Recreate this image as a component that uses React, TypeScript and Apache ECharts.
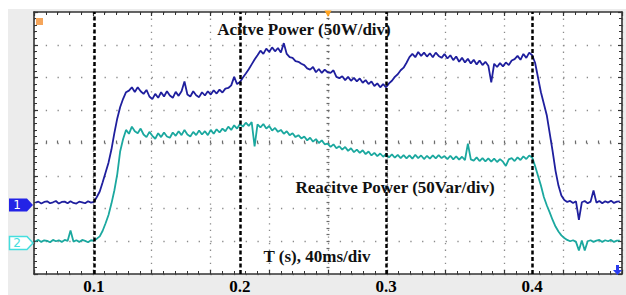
import React, { useEffect, useRef } from "react";
import * as echarts from "echarts";

// Oscilloscope record: samples every 2 ms from 0.060 s, values in screen divisions (8 div tall)
const SAMPLE_START = 0.06;
const SAMPLE_STEP = 0.002;

// Channel 1: active power (50 W/div), in divisions from bottom of screen
const activePowerDiv = [
  2.18, 2.21, 2.15, 2.20, 2.22, 2.16, 2.19, 2.23, 2.15, 2.20,
  2.21, 2.16, 2.22, 2.17, 2.15, 2.21, 2.19, 2.16, 2.22, 2.18,
  2.20, 2.35, 2.52, 2.80, 3.10, 3.40, 3.80, 4.30, 4.75, 5.10,
  5.35, 5.55, 5.60, 5.70, 5.56, 5.70, 5.58, 5.50, 5.62, 5.42,
  5.34, 5.50, 5.38, 5.55, 5.42, 5.58, 5.45, 5.38, 5.56, 5.44,
  5.58, 5.88, 5.48, 5.42, 5.58, 5.46, 5.40, 5.55, 5.45, 5.58,
  5.48, 5.61, 5.51, 5.63, 5.54, 5.66, 5.68, 5.76, 6.02, 5.80,
  5.86, 6.00, 6.12, 6.25, 6.40, 6.55, 6.68, 6.82, 6.72, 6.88,
  6.78, 6.92, 6.80, 6.90, 6.76, 7.05, 6.72, 6.62, 6.60, 6.50,
  6.48, 6.42, 6.38, 6.28, 6.24, 6.32, 6.16, 6.26, 6.14, 6.24,
  6.16, 6.14, 6.22, 6.02, 5.98, 6.04, 5.92, 6.02, 5.90, 5.99,
  5.88, 5.97, 5.84, 5.92, 5.80, 5.88, 5.74, 5.82, 5.70, 5.80,
  5.70, 5.82, 5.90, 6.02, 6.10, 6.22, 6.30, 6.45, 6.62, 6.72,
  6.62, 6.78, 6.66, 6.76, 6.64, 6.74, 6.62, 6.76, 6.66, 6.60,
  6.72, 6.58, 6.68, 6.53, 6.64, 6.48, 6.60, 6.46, 6.57, 6.43,
  6.54, 6.40, 6.52, 6.38, 6.48, 6.36, 5.85, 6.42, 6.32, 6.44,
  6.34, 6.46, 6.38, 6.52, 6.56, 6.66, 6.54, 6.72, 6.60, 6.76,
  6.68, 6.45, 6.00, 5.55, 5.20, 4.85, 4.30, 3.75, 3.15, 2.70,
  2.40, 2.26, 2.20, 2.23, 2.17, 2.22, 1.65, 2.19, 2.23, 2.16,
  2.21, 2.55, 2.18, 2.23, 2.16, 2.22, 2.18, 2.24, 2.17, 2.21,
  2.22,
];

// Channel 2: reactive power (50 Var/div), in divisions from bottom of screen
const reactivePowerDiv = [
  1.00, 1.04, 0.98, 1.03, 1.01, 0.97, 1.04, 1.00, 1.03, 0.98,
  1.04, 1.01, 1.33, 0.99, 1.03, 0.98, 1.04, 1.01, 0.97, 1.03,
  1.02, 1.08, 1.15, 1.32, 1.55, 1.80, 2.15, 2.55, 3.05, 3.75,
  4.12, 4.40, 4.28, 4.50, 4.36, 4.30, 4.44, 4.26, 4.18, 4.34,
  4.22, 4.13, 4.30, 4.18, 4.32, 4.20, 4.16, 4.32, 4.22, 4.36,
  4.24, 4.40, 4.26, 4.20, 4.34, 4.24, 4.38, 4.26, 4.36, 4.24,
  4.40, 4.28, 4.42, 4.32, 4.44, 4.36, 4.50, 4.40, 4.54, 4.44,
  4.58, 4.50, 4.62, 4.52, 4.64, 3.90, 4.57, 4.48, 4.58, 4.44,
  4.52, 4.38, 4.46, 4.34, 4.40, 4.28, 4.36, 4.24, 4.30, 4.18,
  4.24, 4.14, 4.20, 4.08, 4.16, 4.04, 4.12, 4.00, 4.08, 3.96,
  3.98, 3.88, 3.96, 3.84, 3.90, 3.80, 3.88, 3.76, 3.84, 3.72,
  3.80, 3.70, 3.78, 3.66, 3.74, 3.62, 3.70, 3.60, 3.68, 3.58,
  3.66, 3.56, 3.65, 3.55, 3.64, 3.54, 3.63, 3.53, 3.62, 3.52,
  3.64, 3.54, 3.62, 3.51, 3.61, 3.52, 3.62, 3.53, 3.63, 3.54,
  3.60, 3.51, 3.61, 3.50, 3.59, 3.49, 3.58, 3.48, 3.98, 3.50,
  3.46, 3.56, 3.45, 3.54, 3.44, 3.53, 3.43, 3.52, 3.42, 3.51,
  3.43, 3.30, 3.50, 3.54, 3.45, 3.56, 3.48, 3.59, 3.51, 3.62,
  3.56, 3.30, 3.00, 2.70, 2.35, 2.10, 1.88, 1.65, 1.45, 1.30,
  1.18, 1.10, 1.04, 1.00, 1.03, 0.98, 0.72, 1.02, 0.72, 1.00,
  1.03, 0.98, 1.02, 1.04, 0.98, 1.03, 1.00, 1.04, 0.98, 1.02,
  1.02,
];

const time = activePowerDiv.map((_, i) => +(SAMPLE_START + i * SAMPLE_STEP).toFixed(3));

const timeTickLabels = [0.1, 0.2, 0.3, 0.4];
const markerTimes = [0.1, 0.2, 0.3, 0.4];
const X_MIN = 0.059;
const X_MAX = 0.4615;
const X_DIVS = 10;
const Y_DIVS = 8;

const BORDER = "#333333";
const DOT = "#8a8a8a";
const BLUE = "#1f1f9e";
const TEAL = "#1ba89f";
const SERIF = '"Liberation Serif", "Times New Roman", serif';

function divAxis(max: number, position: string, split: number[] | null) {
  return {
    type: "value",
    min: 0,
    max,
    interval: 1,
    position,
    axisLine: { show: true, onZero: false, lineStyle: { color: BORDER, width: 1.6 } },
    axisTick: { show: true, inside: true, length: 4, lineStyle: { color: BORDER, width: 1.2 } },
    minorTick: { show: true, splitNumber: 5, length: 3, lineStyle: { color: BORDER, width: 1 } },
    axisLabel: { show: false },
    splitLine: split
      ? { show: true, lineStyle: { color: DOT, width: 1.3, type: split } }
      : { show: false },
    minorSplitLine: { show: false },
    silent: true,
  };
}

export default function App() {
  const ref = useRef<HTMLDivElement>(null);

  useEffect(() => {
    document.body.style.margin = "0";
    const chart = echarts.init(ref.current!, null, { renderer: "svg" });

    const option: any = {
      animation: false,
      grid: {
        left: 34,
        top: 12,
        right: 4,
        bottom: 19,
        show: true,
        backgroundColor: "#ffffff",
        borderWidth: 0,
      },
      xAxis: [
        {
          type: "value",
          min: X_MIN,
          max: X_MAX,
          position: "bottom",
          axisLine: { show: false, onZero: false },
          axisTick: { show: false },
          splitLine: { show: false },
          axisLabel: {
            show: true,
            customValues: timeTickLabels,
            formatter: (v: number) => v.toFixed(1),
            color: "#000",
            fontFamily: SERIF,
            fontWeight: "bold",
            fontSize: 17,
            margin: 4,
          },
        },
        divAxis(X_DIVS, "bottom", [1.3, 5.3]),
        divAxis(X_DIVS, "top", null),
        {
          type: "value",
          min: 0,
          max: X_DIVS,
          interval: 0.2,
          position: "bottom",
          offset: -130.5,
          axisLine: { show: false, onZero: false },
          axisTick: { show: true, inside: true, length: 3, lineStyle: { color: "#6a6a6a", width: 1.2 } },
          axisLabel: { show: false },
          splitLine: { show: false },
          silent: true,
        },
      ],
      yAxis: [
        divAxis(Y_DIVS, "left", [1.3, 10.46]),
        divAxis(Y_DIVS, "right", null),
        {
          type: "value",
          min: 0,
          max: Y_DIVS,
          interval: 0.2,
          position: "left",
          offset: -292.5,
          axisLine: { show: false, onZero: false },
          axisTick: { show: true, inside: true, length: 3, lineStyle: { color: "#6a6a6a", width: 1.2 } },
          axisLabel: { show: false },
          splitLine: { show: false },
          silent: true,
        },
      ],
      series: [
        {
          name: "Active Power",
          type: "line",
          xAxisIndex: 0,
          yAxisIndex: 0,
          data: time.map((t, i) => [t, activePowerDiv[i]]),
          showSymbol: false,
          symbol: "none",
          lineStyle: { color: BLUE, width: 1.8 },
          z: 3,
          silent: true,
        },
        {
          name: "Reactive Power",
          type: "line",
          xAxisIndex: 0,
          yAxisIndex: 0,
          data: time.map((t, i) => [t, reactivePowerDiv[i]]),
          showSymbol: false,
          symbol: "none",
          lineStyle: { color: TEAL, width: 1.8 },
          z: 4,
          silent: true,
          markLine: {
            silent: true,
            symbol: "none",
            label: { show: false },
            lineStyle: { color: "#000", type: [4, 2.5], width: 2.5 },
            data: markerTimes.map((t) => ({ xAxis: t })),
          },
        },
      ],
      graphic: [
        {
          type: "text",
          x: 304,
          y: 29.5,
          style: { text: "Acitve Power (50W/div)", fill: "#111", font: `bold 17px ${SERIF}`, align: "center", verticalAlign: "middle" },
          z: 20,
        },
        {
          type: "text",
          x: 395,
          y: 187.5,
          style: { text: "Reacitve Power (50Var/div)", fill: "#111", font: `bold 17px ${SERIF}`, align: "center", verticalAlign: "middle" },
          z: 20,
        },
        {
          type: "text",
          x: 317,
          y: 256.5,
          style: { text: "T (s), 40ms/div", fill: "#111", font: `bold 17px ${SERIF}`, align: "center", verticalAlign: "middle" },
          z: 20,
        },
        {
          type: "polygon",
          shape: { points: [[9, 198.5], [27, 198.5], [33, 205], [27, 211.5], [9, 211.5]] },
          style: { fill: "#2323e6" },
          z: 20,
        },
        {
          type: "text",
          x: 17,
          y: 205,
          style: { text: "1", fill: "#fff", font: '12px "DejaVu Sans", sans-serif', align: "center", verticalAlign: "middle" },
          z: 21,
        },
        {
          type: "polygon",
          shape: { points: [[9.5, 236.5], [27, 236.5], [33, 243], [27, 249.5], [9.5, 249.5]] },
          style: { fill: "#ffffff", stroke: "#45dede", lineWidth: 1.5 },
          z: 20,
        },
        {
          type: "text",
          x: 17,
          y: 243,
          style: { text: "2", fill: "#45dede", font: '12px "DejaVu Sans", sans-serif', align: "center", verticalAlign: "middle" },
          z: 21,
        },
        {
          type: "rect",
          shape: { x: 36, y: 18, width: 7, height: 7 },
          style: { fill: "#f5a55a" },
          z: 20,
        },
        {
          type: "polygon",
          shape: { points: [[324.5, 10.5], [331.5, 10.5], [328, 17]] },
          style: { fill: "#ffa21f" },
          z: 20,
        },
        {
          type: "polygon",
          shape: { points: [[616, 265], [619, 265], [619, 270], [622, 270], [617.5, 275], [613, 270], [616, 270]] },
          style: { fill: "#2a3cf0" },
          z: 20,
        },
      ],
    };

    chart.setOption(option);
    return () => chart.dispose();
  }, []);

  return (
    <div style={{ position: "relative", width: 626, height: 295, background: "#ffffff" }}>
      <div style={{ position: "absolute", left: 8, top: 9, width: 618, height: 286, background: "#ececec" }} />
      <div ref={ref} style={{ position: "absolute", left: 0, top: 0, width: 626, height: 295 }} />
    </div>
  );
}
